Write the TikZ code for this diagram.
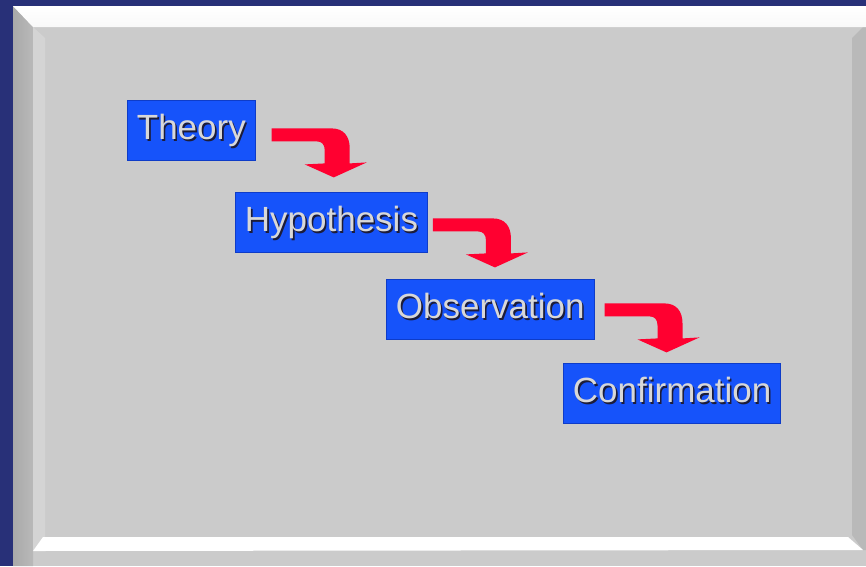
\documentclass[tikz,border=0pt]{standalone}
\usepackage{fontspec}
\setmainfont{Liberation Sans}
\usepackage{xcolor}
\usetikzlibrary{calc, positioning}

\definecolor{navybg}{HTML}{283078}
\definecolor{facegrey}{HTML}{CBCBCB}
\definecolor{bevdark}{HTML}{A9A9A9}
\definecolor{bevlight}{HTML}{D4D4D4}
\definecolor{bevright}{HTML}{B9B9B9}
\definecolor{boxblue}{HTML}{1653FA}
\definecolor{boxedge}{HTML}{0E3CC8}
\definecolor{arrowred}{HTML}{FF0030}
\definecolor{txtlight}{HTML}{D8D8D8}
\definecolor{txtshadow}{HTML}{1C1C38}

\newcommand{\shadowed}[1]{\makebox[0pt][l]{\hspace{1.6pt}\raisebox{-1.6pt}{\textcolor{txtshadow}{#1}}}\textcolor{txtlight}{#1}}

\tikzset{
    stagebox/.style={rectangle, fill=boxblue, draw=boxedge, line width=0.8pt,
        anchor=north west, minimum height=60pt, inner xsep=9.5pt, inner ysep=0pt,
        text height=25pt, text depth=7pt, font=\fontsize{35}{42}\selectfont},
    bendarrow/.pic={
        \fill[arrowred] (0,0) -- (60,0) .. controls (72,0) and (78,8) .. (78,20)
            -- (78,35) -- (95,34) -- (62,49) -- (33,36) -- (53,35) -- (53,22)
            .. controls (53,16) and (50,13) .. (45,13) -- (0,13) -- cycle;
    }
}

\begin{document}
\begin{tikzpicture}[x=1pt, y=-1pt]
    % 1. Nền và khung nổi
    \fill[navybg] (0,0) rectangle (866,566);
    \useasboundingbox (0,0) rectangle (866,566);
    \fill[facegrey] (13,6) rectangle (866,566);
    \shade[left color=bevdark, right color=bevright] (13,6) -- (33,27) -- (33,566) -- (13,566) -- cycle;
    \fill[bevlight] (33,27) -- (45,38) -- (45,537) -- (33,551) -- cycle;
    \fill[bevright] (863,27) -- (866,27) -- (866,550) -- (863,550) -- (852,535) -- (852,38) -- cycle;
    \shade[top color=white, bottom color=white!88!facegrey] (13,6) -- (866,6) -- (866,27) -- (33,27) -- cycle;
    \fill[white] (43,537) -- (848,537) -- (863,550) -- (33,551) -- cycle;

    % 2. Các ô bước
    \node[stagebox] (theory) at (127,100) {\shadowed{Theory}};
    \node[stagebox] (hypo) at (235,192) {\shadowed{Hypothesis}};
    \node[stagebox] (obs) at (386,279) {\shadowed{Observation}};
    \node[stagebox] (conf) at (563,363) {\shadowed{Confirmation}};

    % 3. Mũi tên gấp khúc giữa các ô
    \pic at ($(theory.east)+(16,-2)$) {bendarrow};
    \pic at ($(hypo.east)+(5,-4)$) {bendarrow};
    \pic at ($(obs.east)+(10,-6)$) {bendarrow};
\end{tikzpicture}
\end{document}
